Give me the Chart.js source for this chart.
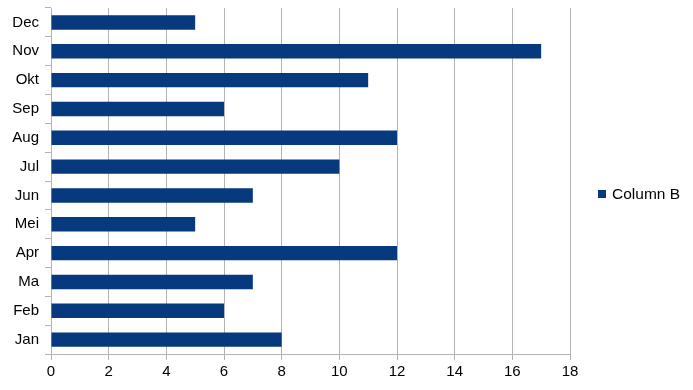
<!DOCTYPE html>
<html>
<head>
<meta charset="utf-8">
<script src="https://cdn.jsdelivr.net/npm/chart.js@4/dist/chart.umd.min.js"></script>
<style>
  html, body { margin: 0; padding: 0; background: #fff; }
  #wrap { width: 693px; height: 390px; }
</style>
</head>
<body>
<div id="wrap"><canvas id="chart"></canvas></div>
<script>
const maanden = ['Jan', 'Feb', 'Ma', 'Apr', 'Mei', 'Jun', 'Jul', 'Aug', 'Sep', 'Okt', 'Nov', 'Dec'];
const columnB = [8, 6, 7, 12, 5, 7, 10, 12, 6, 11, 17, 5];
const xTicks = [0, 2, 4, 6, 8, 10, 12, 14, 16, 18];

const kleur = '#06397d';
const grijs = '#b3b3b3';
const lettertype = { family: '"Liberation Sans", Arial, sans-serif', size: 15 };

// legenda rechts, los getekend zodat de positie klopt
const legendaPlugin = {
  id: 'legenda',
  afterDraw(chart) {
    const ctx = chart.ctx;
    const y = chart.height / 2 - 1;
    ctx.save();
    ctx.fillStyle = kleur;
    ctx.fillRect(598, y - 4, 8, 8);
    ctx.fillStyle = '#000';
    ctx.font = '15.5px "Liberation Sans", Arial, sans-serif';
    ctx.textBaseline = 'middle';
    ctx.fillText(chart.data.datasets[0].label, 612, y + 1);
    ctx.restore();
  }
};

new Chart(document.getElementById('chart'), {
  type: 'bar',
  data: {
    labels: maanden,
    datasets: [{
      label: 'Column B',
      data: columnB,
      backgroundColor: kleur,
      borderWidth: 0,
      barPercentage: 0.5,
      categoryPercentage: 1
    }]
  },
  options: {
    indexAxis: 'y',
    responsive: true,
    maintainAspectRatio: false,
    animation: false,
    layout: { padding: { top: 8, right: 123, left: 0, bottom: 0 } },
    plugins: { legend: { display: false }, tooltip: { enabled: false } },
    scales: {
      x: {
        type: 'linear',
        min: 0,
        max: 18,
        afterBuildTicks: s => { s.ticks = xTicks.map(v => ({ value: v })); },
        afterFit: s => { s.height = 36; s.paddingLeft = 0; s.paddingRight = 0; },
        grid: { color: grijs, tickLength: 6, lineWidth: 1 },
        border: { color: grijs },
        ticks: { color: '#000', font: lettertype, padding: 3, maxRotation: 0 }
      },
      y: {
        reverse: true,
        offset: true,
        afterFit: s => { s.width = 51; s.paddingTop = 0; s.paddingBottom = 0; },
        grid: { color: grijs, tickLength: 6, offset: true, drawOnChartArea: false },
        border: { color: grijs },
        ticks: { color: '#000', font: lettertype, padding: 6 }
      }
    }
  },
  plugins: [legendaPlugin]
});
</script>
</body>
</html>
